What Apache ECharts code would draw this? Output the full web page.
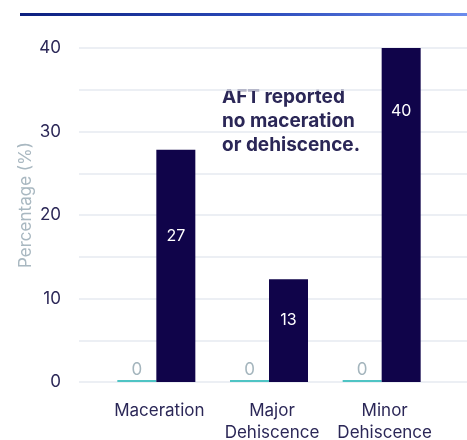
<!DOCTYPE html>
<html>
<head>
<meta charset="utf-8">
<script src="https://cdn.jsdelivr.net/npm/echarts@6/dist/echarts.min.js"></script>
<style>
  html, body { margin: 0; padding: 0; background: #fff; }
  #chart { width: 467px; height: 440px; }
</style>
</head>
<body>
<div id="chart"></div>
<script>
const categories = ['Maceration', 'Major\nDehiscence', 'Minor\nDehiscence'];
const aftValues = [0, 0, 0];
const otherValues = [27.8, 12.3, 40];
const otherLabels = ['27', '13', '40'];
const note = 'AFT reported\nno maceration\nor dehiscence.';
const yTitle = 'Percentage (%)';

const navy = '#10044a';
const teal = '#4fc4c4';
const textColor = '#2b2757';
const font = 'Inter, "Noto Sans", sans-serif';

// label heights inside the navy bars
const labelY = ['37%', '40%', '19%'];

const chart = echarts.init(document.getElementById('chart'));

chart.setOption({
  animation: false,
  graphic: [
    {
      type: 'rect',
      shape: { x: 20, y: 13, width: 447, height: 3 },
      style: {
        fill: new echarts.graphic.LinearGradient(0, 0, 1, 0, [
          { offset: 0, color: '#0c1f7e' },
          { offset: 0.55, color: '#2c4cbc' },
          { offset: 1, color: '#6c8cec' }
        ])
      }
    },
    {
      type: 'text',
      left: 222,
      top: 85,
      style: {
        text: note,
        fill: textColor,
        font: 'bold 19px ' + font,
        lineHeight: 24
      }
    },
    {
      type: 'text',
      x: 26,
      y: 205,
      rotation: Math.PI / 2,
      style: {
        text: yTitle,
        fill: '#a9b8c1',
        font: '17px ' + font,
        align: 'center',
        verticalAlign: 'middle'
      }
    }
  ],
  grid: [
    { left: 79, right: 0, top: 48, height: 334, outerBoundsMode: 'none' },
    { left: 100, width: 338, top: 48, height: 334, outerBoundsMode: 'none' }
  ],
  xAxis: [
    { gridIndex: 0, type: 'value', show: false },
    {
      gridIndex: 1,
      type: 'category',
      data: categories,
      axisLine: { show: false },
      axisTick: { show: false },
      axisLabel: {
        interval: 0,
        hideOverlap: false,
        color: textColor,
        fontFamily: font,
        fontSize: 17,
        lineHeight: 22,
        margin: 18,
        padding: [0, 0, 0, 6]
      }
    }
  ],
  yAxis: [
    {
      gridIndex: 0,
      type: 'value',
      min: 0,
      max: 40,
      interval: 5,
      axisLine: { show: false },
      axisTick: { show: false },
      axisLabel: {
        color: textColor,
        fontFamily: font,
        fontSize: 17,
        margin: 18,
        formatter: v => (v % 10 === 0 ? v : '')
      },
      splitLine: { lineStyle: { color: '#e6eaf0', width: 1.5 } }
    },
    {
      gridIndex: 1,
      type: 'value',
      min: 0,
      max: 40,
      show: false,
      splitLine: { show: false }
    }
  ],
  series: [
    {
      type: 'bar',
      xAxisIndex: 1,
      yAxisIndex: 1,
      data: aftValues,
      barWidth: 39,
      barGap: '0%',
      barMinHeight: 2,
      itemStyle: { color: teal },
      label: {
        show: true,
        position: 'top',
        distance: 2,
        color: '#a4b5bd',
        fontFamily: font,
        fontSize: 17
      }
    },
    {
      type: 'bar',
      xAxisIndex: 1,
      yAxisIndex: 1,
      barWidth: 39,
      barGap: '0%',
      itemStyle: { color: navy },
      data: otherValues.map((v, i) => ({
        value: v,
        label: {
          show: true,
          position: ['50%', labelY[i]],
          align: 'center',
          verticalAlign: 'middle',
          formatter: otherLabels[i],
          color: '#ffffff',
          fontFamily: font,
          fontSize: 16
        }
      }))
    }
  ]
});
</script>
</body>
</html>
